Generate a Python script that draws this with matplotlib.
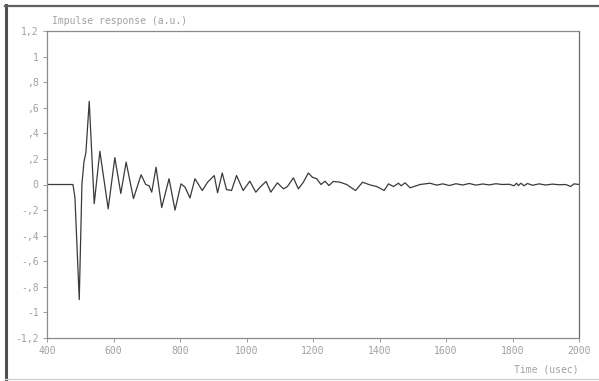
import numpy as np
import matplotlib
matplotlib.use("Agg")
import matplotlib.pyplot as plt
from matplotlib.lines import Line2D

# Tiempos (usec) y respuesta (u.a.)
time_us = [400, 478, 484, 497, 505, 511, 517, 527, 542, 559, 584, 604, 622, 638,
           660, 683, 697, 707, 715, 728, 745, 767, 785, 803, 815, 830, 845, 867,
           883, 903, 913, 927, 940, 955, 970, 990, 1010, 1028, 1041, 1059, 1073,
           1093, 1111, 1123, 1141, 1156, 1171, 1186, 1198, 1211, 1224, 1236, 1248,
           1261, 1281, 1301, 1328, 1349, 1371, 1392, 1414, 1427, 1442, 1457, 1465,
           1477, 1492, 1522, 1552, 1572, 1590, 1610, 1630, 1650, 1670, 1690, 1710,
           1730, 1750, 1770, 1790, 1805, 1812, 1818, 1825, 1835, 1845, 1860, 1880,
           1900, 1920, 1940, 1960, 1975, 1985, 2000]
response = [0.0, 0.0, -0.10, -0.90, 0.0, 0.175, 0.25, 0.65, -0.15, 0.26, -0.19, 0.21,
            -0.07, 0.175, -0.11, 0.076, 0.0, -0.01, -0.06, 0.135, -0.18, 0.045, -0.20,
            0.005, -0.02, -0.105, 0.045, -0.047, 0.018, 0.07, -0.065, 0.09, -0.04,
            -0.047, 0.07, -0.047, 0.026, -0.06, -0.02, 0.024, -0.06, 0.013, -0.034,
            -0.016, 0.052, -0.034, 0.018, 0.09, 0.057, 0.045, 0.0, 0.026, -0.008,
            0.024, 0.018, 0.0, -0.047, 0.018, -0.003, -0.016, -0.047, 0.005, -0.016,
            0.01, -0.01, 0.013, -0.026, 0.0, 0.01, -0.005, 0.005, -0.008, 0.006,
            -0.004, 0.008, -0.005, 0.004, -0.003, 0.006, 0.0, 0.002, -0.01, 0.01,
            -0.008, 0.01, -0.01, 0.008, -0.006, 0.005, -0.004, 0.003, -0.002, 0.0,
            -0.015, 0.005, 0.0]

y_ticks = [1.2, 1.0, 0.8, 0.6, 0.4, 0.2, 0.0, -0.2, -0.4, -0.6, -0.8, -1.0, -1.2]
y_labels = ["1,2", "1", ",8", ",6", ",4", ",2", "0", "-,2", "-,4", "-,6", "-,8", "-1", "-1,2"]
x_ticks = [400, 600, 800, 1000, 1200, 1400, 1600, 1800, 2000]

FONT = "DejaVu Sans Mono"
GRIS = "#a0a0a0"

fig = plt.figure(figsize=(5.99, 3.81), dpi=100)
ax = fig.add_axes([47 / 599, 1 - 338 / 381, 532 / 599, 307 / 381])

ax.plot(time_us, response, color="#3a3a3a", lw=0.9)

ax.set_xlim(400, 2000)
ax.set_ylim(-1.2, 1.2)
ax.set_xticks(x_ticks)
ax.set_xticklabels([str(t) for t in x_ticks], family=FONT, fontsize=7, color=GRIS)
ax.set_yticks(y_ticks)
ax.set_yticklabels(y_labels, family=FONT, fontsize=7, color=GRIS)
ax.tick_params(direction="out", length=3, width=0.7, color="#999999", pad=3)

for lado, sp in ax.spines.items():
    sp.set_linewidth(0.9)
    sp.set_color("#6a6a6a" if lado == "right" else "#8a8a8a")

ax.text(0.01, 1.015, "Impulse response (a.u.)", transform=ax.transAxes,
        family=FONT, fontsize=7, color=GRIS, ha="left", va="bottom")
ax.text(1.0, -0.085, "Time (usec)", transform=ax.transAxes,
        family=FONT, fontsize=7, color=GRIS, ha="right", va="top")

# marco de la figura
fig.add_artist(Line2D([6 / 599, 6 / 599], [2 / 381, 1 - 5 / 381],
                      transform=fig.transFigure, color="#505050", lw=2.2))
fig.add_artist(Line2D([5 / 599, 1.0], [1 - 6 / 381, 1 - 6 / 381],
                      transform=fig.transFigure, color="#606060", lw=1.6))
fig.add_artist(Line2D([5 / 599, 1.0], [2 / 381, 2 / 381],
                      transform=fig.transFigure, color="#d0d0d0", lw=1.0))

fig.savefig("out.png", dpi=100)
